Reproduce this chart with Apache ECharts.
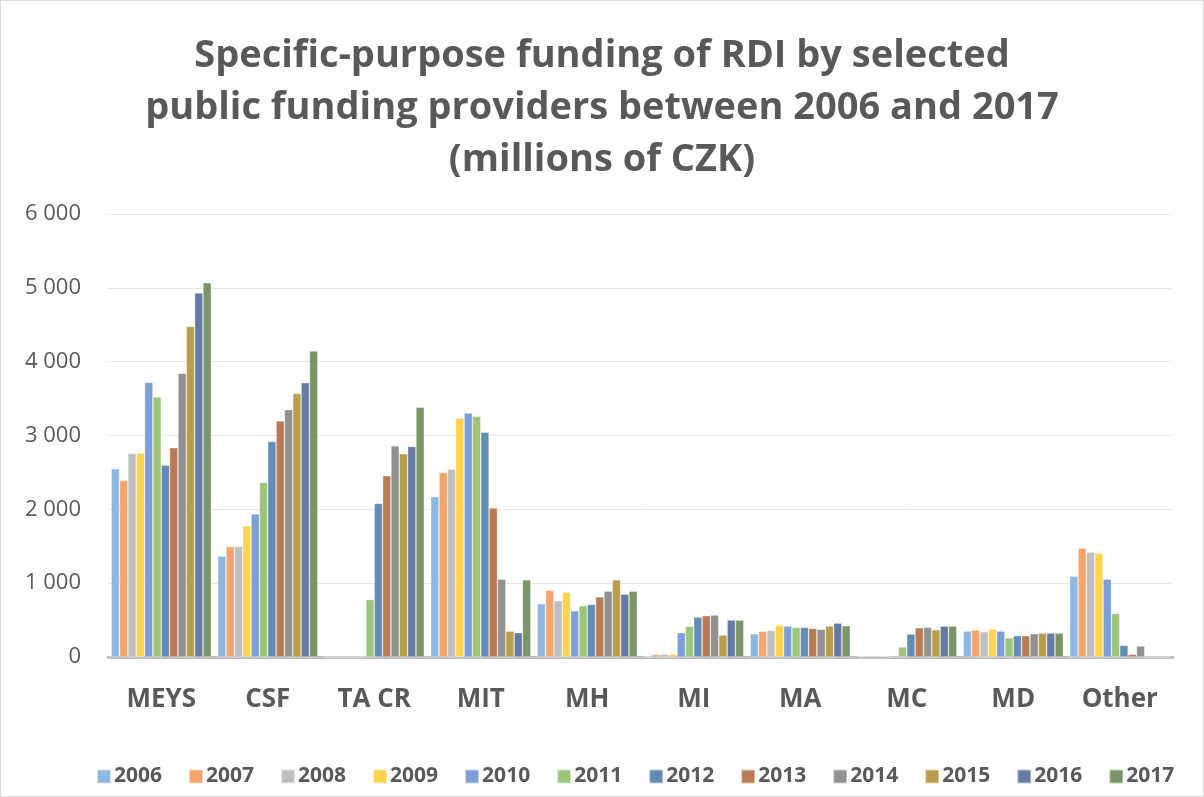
<!DOCTYPE html>
<html>
<head>
<meta charset="utf-8">
<script src="https://cdn.jsdelivr.net/npm/echarts@6/dist/echarts.min.js"></script>
<style>
  html, body { margin: 0; padding: 0; background: #fff; }
  #chart { width: 1202px; height: 795px; border: 1px solid #d9d9d9; }
</style>
</head>
<body>
<div id="chart"></div>
<script>
const providers = ['MEYS', 'CSF', 'TA CR', 'MIT', 'MH', 'MI', 'MA', 'MC', 'MD', 'Other']
const years = ['2006', '2007', '2008', '2009', '2010', '2011', '2012', '2013', '2014', '2015', '2016', '2017']
const yTicks = [0, 1000, 2000, 3000, 4000, 5000, 6000]

// one row per year, values per provider (millions of CZK)
const v2006 = [2550, 1365, 0, 2171, 721, 12, 315, 10, 351, 1095]
const v2007 = [2392, 1496, 0, 2500, 901, 35, 347, 12, 365, 1473]
const v2008 = [2757, 1496, 0, 2545, 761, 38, 360, 14, 342, 1419]
const v2009 = [2760, 1775, 0, 3234, 878, 40, 432, 14, 378, 1405]
const v2010 = [3720, 1937, 0, 3306, 626, 329, 419, 16, 351, 1054]
const v2011 = [3523, 2365, 779, 3261, 694, 414, 401, 135, 261, 590]
const v2012 = [2599, 2919, 2081, 3045, 712, 541, 401, 311, 288, 158]
const v2013 = [2834, 3198, 2455, 2018, 815, 559, 387, 396, 288, 36]
const v2014 = [3842, 3351, 2860, 1054, 892, 568, 374, 401, 315, 149]
const v2015 = [4478, 3568, 2752, 351, 1045, 297, 419, 369, 324, 0]
const v2016 = [4932, 3716, 2851, 329, 851, 500, 459, 419, 324, 0]
const v2017 = [5068, 4144, 3383, 1045, 891, 500, 423, 419, 324, 0]
const values = [v2006, v2007, v2008, v2009, v2010, v2011, v2012, v2013, v2014, v2015, v2016, v2017]

const colors = ['#8db8e2', '#f4a46d', '#bfbfbf', '#ffd34b', '#7c9fd9', '#9cc57a',
  '#638cb4', '#b87b53', '#919191', '#b89e4a', '#667ba3', '#7a9567']

const chart = echarts.init(document.getElementById('chart'))

const fmt = (v) => (v === 0 ? '0' : String(v).replace(/\B(?=(\d{3})+(?!\d))/g, ' '))

chart.setOption({
  color: colors,
  animation: false,
  title: {
    text: 'Specific-purpose funding of RDI by selected\npublic funding providers between 2006 and 2017\n(millions of CZK)',
    left: 'center',
    top: 24,
    textStyle: {
      fontFamily: 'Open Sans',
      fontWeight: 'bold',
      fontSize: 38,
      lineHeight: 52,
      color: '#595959',
    },
  },
  legend: {
    data: years,
    top: 760,
    left: 90,
    itemWidth: 14,
    itemHeight: 14,
    itemGap: 26,
    icon: 'rect',
    textStyle: { fontFamily: 'Open Sans', fontWeight: 'bold', fontSize: 21, color: '#595959', padding: [0, 0, 0, -2] },
  },
  grid: { left: 107, right: 30, top: 213, bottom: 139, containLabel: false },
  xAxis: {
    type: 'category',
    data: providers,
    axisTick: { show: false },
    axisLine: { lineStyle: { color: '#bfbfbf', width: 3 } },
    axisLabel: {
      fontFamily: 'Open Sans',
      fontWeight: 'bold',
      fontSize: 26,
      color: '#595959',
      margin: 30,
    },
  },
  yAxis: {
    type: 'value',
    min: 0,
    max: 6000,
    interval: 1000,
    axisLine: { show: false },
    axisTick: { show: false },
    splitLine: { lineStyle: { color: '#e6e6e6', width: 1 } },
    axisLabel: {
      fontFamily: 'Open Sans',
      fontSize: 22,
      color: '#595959',
      margin: 27,
      formatter: (v) => (yTicks.includes(v) ? fmt(v) : ''),
    },
  },
  series: years.map((y, i) => ({
    name: y,
    type: 'bar',
    data: values[i],
    barGap: '0%',
    barCategoryGap: '6%',
    itemStyle: { borderColor: 'rgba(255,255,255,0.6)', borderWidth: 0.6 },
  })),
})
</script>
</body>
</html>
